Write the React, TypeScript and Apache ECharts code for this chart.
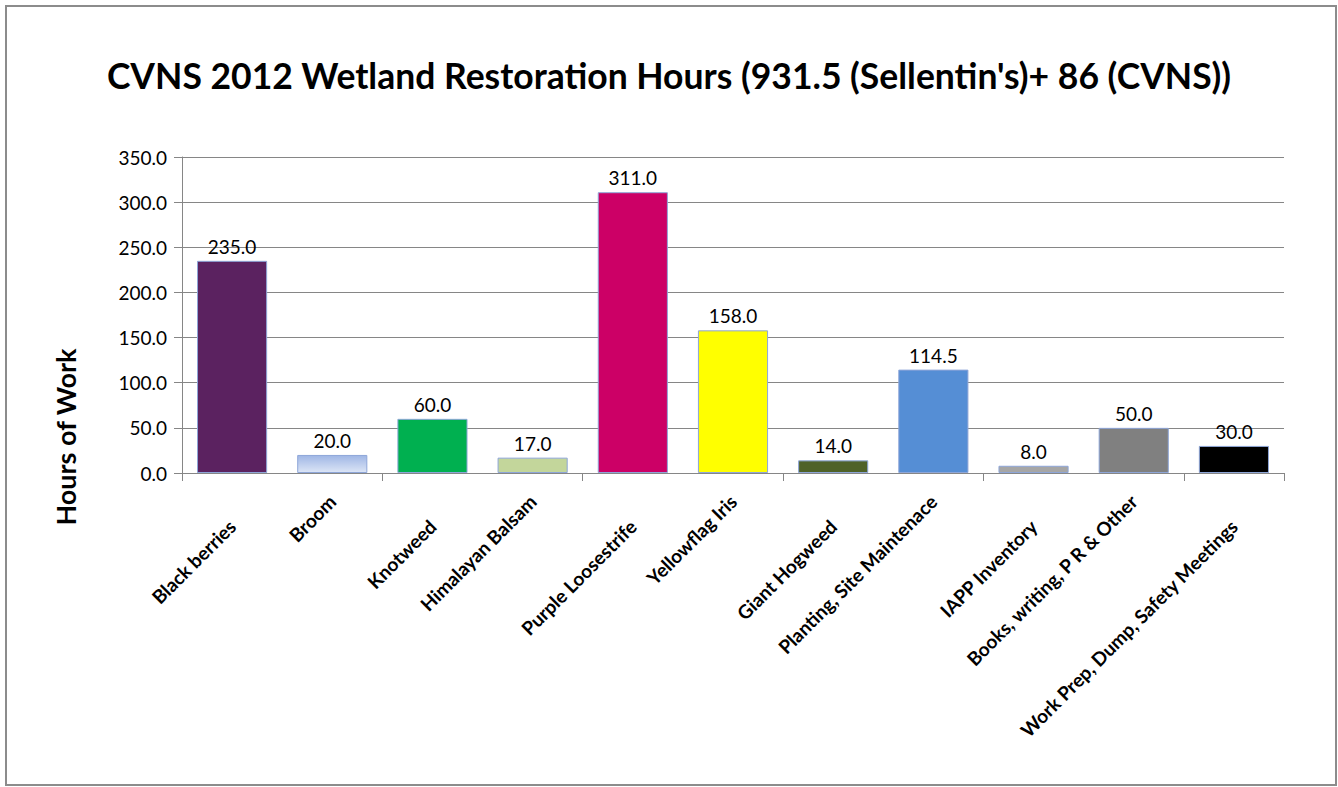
import React, { useEffect, useRef } from "react";
import * as echarts from "echarts";

const categories = [
  "Black berries",
  "Broom",
  "Knotweed",
  "Himalayan Balsam",
  "Purple Loosestrife",
  "Yellowflag Iris",
  "Giant Hogweed",
  "Planting, Site Maintenace",
  "IAPP Inventory",
  "Books, writing, P R & Other",
  "Work Prep, Dump, Safety Meetings",
];
const hours = [235.0, 20.0, 60.0, 17.0, 311.0, 158.0, 14.0, 114.5, 8.0, 50.0, 30.0];
const barColors: any[] = [
  "#5B2260",
  { type: "linear", x: 0, y: 0, x2: 0, y2: 1, colorStops: [{ offset: 0, color: "#9FB6E5" }, { offset: 1, color: "#DCE5F6" }] },
  "#00B050",
  "#C3D69B",
  "#CC0066",
  "#FFFF00",
  "#4F6228",
  "#558ED5",
  "#A6A6A6",
  "#808080",
  "#000000",
];
const yTicks = { min: 0, max: 350, interval: 50 };
const titleText = "CVNS 2012 Wetland Restoration Hours (931.5 (Sellentin's)+ 86 (CVNS))";
const yAxisTitle = "Hours of Work";

const FONT = "Lato, 'Open Sans', sans-serif";

export default function App() {
  const ref = useRef<HTMLDivElement>(null);
  useEffect(() => {
    if (!ref.current) return;
    const chart = echarts.init(ref.current, null, { renderer: "svg" });
    const axisColor = "#868686";
    chart.setOption({
      animation: false,
      backgroundColor: "#ffffff",
      title: {
        text: titleText,
        left: "center",
        top: 52,
        textStyle: { fontFamily: FONT, fontWeight: "bold", fontSize: 35.5, color: "#000" },
      },
      graphic: [
        {
          type: "rect",
          shape: { x: 6, y: 6, width: 1330, height: 779 },
          style: { fill: "none", stroke: "#8c8c8c", lineWidth: 2 },
          silent: true,
        },
        {
          type: "text",
          x: 65,
          y: 437,
          rotation: Math.PI / 2,
          style: {
            text: yAxisTitle,
            fontFamily: FONT,
            fontWeight: "bold",
            fontSize: 27,
            fill: "#000",
            align: "center",
            verticalAlign: "middle",
          },
        },
      ],
      grid: { left: 182, right: 54, top: 157, bottom: 314 },
      xAxis: [
        {
          type: "category",
          data: categories,
          boundaryGap: true,
          axisLine: { show: true, lineStyle: { color: axisColor, width: 1 } },
          axisTick: { show: true, length: 8, alignWithLabel: false, lineStyle: { color: axisColor } },
          axisLabel: {
            interval: (i: number) => i % 2 === 0,
            rotate: 45,
            margin: 50,
            fontFamily: FONT,
            fontWeight: "bold",
            fontSize: 19,
            color: "#000",
          },
        },
        {
          type: "category",
          data: categories,
          position: "bottom",
          boundaryGap: true,
          axisLine: { show: false },
          axisTick: { show: false },
          splitLine: { show: false },
          axisLabel: {
            interval: (i: number) => i % 2 === 1,
            rotate: 45,
            margin: 25,
            fontFamily: FONT,
            fontWeight: "bold",
            fontSize: 19,
            color: "#000",
          },
        },
      ],
      yAxis: {
        type: "value",
        min: yTicks.min,
        max: yTicks.max,
        interval: yTicks.interval,
        axisLine: { show: true, lineStyle: { color: axisColor, width: 1 } },
        axisTick: { show: true, length: 8, lineStyle: { color: axisColor } },
        splitLine: { show: true, lineStyle: { color: axisColor, width: 1 } },
        axisLabel: {
          formatter: (v: number) => v.toFixed(1),
          margin: 15,
          fontFamily: FONT,
          fontSize: 19,
          color: "#000",
        },
      },
      series: [
        {
          type: "bar",
          xAxisIndex: 0,
          barWidth: "70%",
          data: hours.map((v, i) => ({
            value: v,
            itemStyle: { color: barColors[i], borderColor: "#8EA6D8", borderWidth: 1 },
          })),
          label: {
            show: true,
            position: "top",
            distance: 5,
            formatter: (p: any) => Number(p.value).toFixed(1),
            fontFamily: FONT,
            fontSize: 19,
            color: "#000",
          },
        },
      ],
    });
    return () => chart.dispose();
  }, []);
  return (
    <div
      ref={ref}
      style={{ position: "fixed", left: 0, top: 0, width: 1338, height: 787 }}
    />
  );
}
